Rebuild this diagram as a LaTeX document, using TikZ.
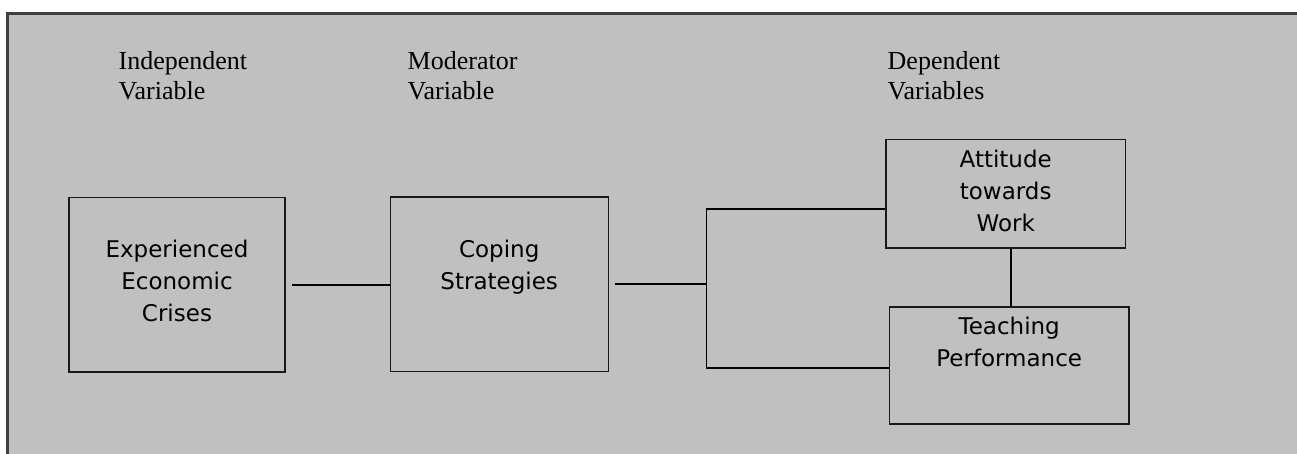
\documentclass[tikz,border=0pt]{standalone}
\usepackage{fontspec}
\setmainfont{Liberation Serif}
\newfontfamily\boxfont{DejaVu Sans}
\usepackage{tikz}

\definecolor{panelgray}{RGB}{192,192,192}
\definecolor{framegray}{RGB}{64,64,64}

\begin{document}
\begin{tikzpicture}[x=1pt, y=-1pt,
		varbox/.style={draw=black!90, line width=1.3pt, inner sep=0pt},
		boxtext/.style={font={\boxfont\fontsize{23}{32}\selectfont}, text width=#1, align=center, inner sep=0pt, anchor=base},
		heading/.style={font={\fontsize{26}{30}\selectfont}, text width=200pt, align=left, inner sep=0pt, anchor=base west},
		link/.style={line width=1.8pt, black}]
				\useasboundingbox (0,0) rectangle (1297,454);
				\fill[white] (0,0) rectangle (1297,454);
				\clip (0,0) rectangle (1297,454);
				\draw[line width=3pt, draw=framegray, fill=panelgray] (7.5,13.5) rectangle (1330,490);
				
				\node[heading] (indep) at (118.5,69.3) {Independent\\Variable};
				\node[heading] (moder) at (407.5,69.3) {Moderator\\Variable};
				\node[heading] (depen) at (887.5,69.3) {Dependent\\Variables};
				
				\node[varbox, minimum width=216pt, minimum height=174.5pt] (crises) at (177,284.75) {};
				\node[varbox, minimum width=218pt, minimum height=174.5pt] (coping) at (499.2,284.25) {};
				\node[varbox, minimum width=239.3pt, minimum height=108.3pt] (attitude) at (1005.7,193.9) {};
				\node[varbox, minimum width=239.7pt, minimum height=117pt] (teaching) at (1009.2,365.5) {};
				
				\node[boxtext=216pt] (crisestxt) at ([yshift=-61pt]crises.north) {Experienced\\Economic\\Crises};
				\node[boxtext=218pt] (copingtxt) at ([yshift=-61.3pt]coping.north) {Coping\\Strategies};
				\node[boxtext=239pt] (attitudetxt) at ([yshift=-28.6pt]attitude.north) {Attitude\\towards\\Work};
				\node[boxtext=239pt] (teachingtxt) at ([yshift=-28pt]teaching.north) {Teaching\\Performance};
				
				\coordinate (fork) at (706.5,286.5);
				\draw[link, shorten <=6pt] (crises.east) -- (crises.east -| coping.west);
				\draw[link, shorten <=6pt] (coping.east) -- (coping.east -| fork);
				\draw[link] ([yshift=-15.4pt]attitude.west) -| (fork) |- ([yshift=-2.2pt]teaching.west);
				\draw[link] ([xshift=5.6pt]attitude.south) -- ([xshift=5.6pt]attitude.south |- teaching.north);
			\end{tikzpicture}
\end{document}
